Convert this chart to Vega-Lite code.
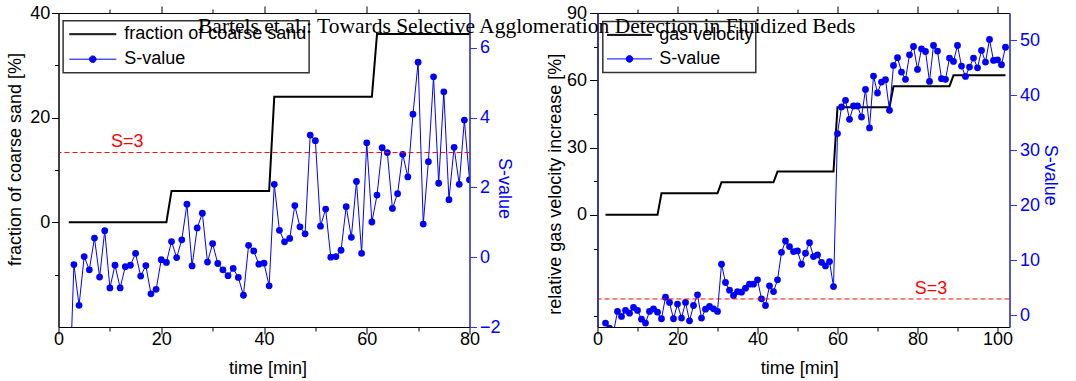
{
  "$schema": "https://vega.github.io/schema/vega-lite/v6.json",
  "background": "white",
  "padding": {"left": 5.5, "top": 3, "right": 12, "bottom": 0},
  "title": {"text": "Bartels et al.: Towards Selective Agglomeration Detection in Fluidized Beds", "font": "Liberation Serif", "fontSize": 21.5, "fontWeight": "normal", "color": "black", "anchor": "middle", "frame": "bounds", "offset": -51, "baseline": "alphabetic", "dx": -6},
  "datasets": {
    "sand": [{"t": 2, "v": 0}, {"t": 21, "v": 0}, {"t": 22, "v": 6}, {"t": 41, "v": 6}, {"t": 42, "v": 24}, {"t": 61, "v": 24}, {"t": 62, "v": 36}, {"t": 80, "v": 36}],
    "sL": [{"t": 2, "s": -4.5}, {"t": 3, "s": -0.21}, {"t": 4, "s": -1.38}, {"t": 5, "s": 0.02}, {"t": 6, "s": -0.36}, {"t": 7, "s": 0.55}, {"t": 8, "s": -0.57}, {"t": 9, "s": 0.76}, {"t": 10, "s": -0.88}, {"t": 11, "s": -0.23}, {"t": 12, "s": -0.88}, {"t": 13, "s": -0.27}, {"t": 14, "s": -0.23}, {"t": 15, "s": 0.11}, {"t": 16, "s": -0.54}, {"t": 17, "s": -0.24}, {"t": 18, "s": -1.05}, {"t": 19, "s": -0.92}, {"t": 20, "s": -0.07}, {"t": 21, "s": -0.15}, {"t": 22, "s": 0.45}, {"t": 23, "s": -0.01}, {"t": 24, "s": 0.5}, {"t": 25, "s": 1.52}, {"t": 26, "s": -0.25}, {"t": 27, "s": 0.84}, {"t": 28, "s": 1.26}, {"t": 29, "s": -0.14}, {"t": 30, "s": 0.39}, {"t": 31, "s": -0.18}, {"t": 32, "s": -0.36}, {"t": 33, "s": -0.53}, {"t": 34, "s": -0.32}, {"t": 35, "s": -0.58}, {"t": 36, "s": -1.09}, {"t": 37, "s": 0.34}, {"t": 38, "s": 0.18}, {"t": 39, "s": -0.2}, {"t": 40, "s": -0.17}, {"t": 41, "s": -0.82}, {"t": 42, "s": 2.09}, {"t": 43, "s": 0.77}, {"t": 44, "s": 0.44}, {"t": 45, "s": 0.54}, {"t": 46, "s": 1.48}, {"t": 47, "s": 0.87}, {"t": 48, "s": 0.67}, {"t": 49, "s": 3.5}, {"t": 50, "s": 3.34}, {"t": 51, "s": 0.89}, {"t": 52, "s": 1.38}, {"t": 53, "s": 0.0}, {"t": 54, "s": 0.02}, {"t": 55, "s": 0.2}, {"t": 56, "s": 1.45}, {"t": 57, "s": 0.57}, {"t": 58, "s": 2.17}, {"t": 59, "s": 0.11}, {"t": 60, "s": 3.28}, {"t": 61, "s": 1.01}, {"t": 62, "s": 1.78}, {"t": 63, "s": 3.14}, {"t": 64, "s": 3.0}, {"t": 65, "s": 1.4}, {"t": 66, "s": 1.82}, {"t": 67, "s": 2.95}, {"t": 68, "s": 2.3}, {"t": 69, "s": 4.1}, {"t": 70, "s": 5.59}, {"t": 71, "s": 0.95}, {"t": 72, "s": 2.74}, {"t": 73, "s": 5.17}, {"t": 74, "s": 2.12}, {"t": 75, "s": 4.74}, {"t": 76, "s": 1.65}, {"t": 77, "s": 3.15}, {"t": 78, "s": 2.09}, {"t": 79, "s": 3.93}, {"t": 80, "s": 2.22}],
    "gas": [{"t": 2, "v": 0}, {"t": 15, "v": 0}, {"t": 16, "v": 9.6}, {"t": 30, "v": 9.6}, {"t": 31, "v": 14.5}, {"t": 44, "v": 14.5}, {"t": 45, "v": 19.3}, {"t": 59, "v": 19.3}, {"t": 60, "v": 48}, {"t": 73, "v": 48}, {"t": 74, "v": 57.3}, {"t": 88, "v": 57.3}, {"t": 89, "v": 62.2}, {"t": 102, "v": 62.2}],
    "sR": [{"t": 2, "s": -1.39}, {"t": 3, "s": -2.3}, {"t": 4, "s": -3.1}, {"t": 5, "s": 0.73}, {"t": 6, "s": -0.18}, {"t": 7, "s": 0.91}, {"t": 8, "s": 0.42}, {"t": 9, "s": 1.45}, {"t": 10, "s": 0.91}, {"t": 11, "s": -0.67}, {"t": 12, "s": -1.39}, {"t": 13, "s": 0.73}, {"t": 14, "s": 1.21}, {"t": 15, "s": 0.6}, {"t": 16, "s": -0.6}, {"t": 17, "s": 3.33}, {"t": 18, "s": 2.36}, {"t": 19, "s": -0.6}, {"t": 20, "s": 2.06}, {"t": 21, "s": -0.48}, {"t": 22, "s": 2.36}, {"t": 23, "s": -0.97}, {"t": 24, "s": 1.81}, {"t": 25, "s": 3.75}, {"t": 26, "s": -0.48}, {"t": 27, "s": 1.15}, {"t": 28, "s": 1.63}, {"t": 29, "s": 1.21}, {"t": 30, "s": 0.73}, {"t": 31, "s": 9.31}, {"t": 32, "s": 5.99}, {"t": 33, "s": 4.59}, {"t": 34, "s": 3.63}, {"t": 35, "s": 4.35}, {"t": 36, "s": 4.23}, {"t": 37, "s": 4.96}, {"t": 38, "s": 5.68}, {"t": 39, "s": 5.68}, {"t": 40, "s": 6.47}, {"t": 41, "s": 3.02}, {"t": 42, "s": 1.81}, {"t": 43, "s": 5.38}, {"t": 44, "s": 4.35}, {"t": 45, "s": 6.47}, {"t": 46, "s": 11.49}, {"t": 47, "s": 13.54}, {"t": 48, "s": 12.52}, {"t": 49, "s": 11.61}, {"t": 50, "s": 11.73}, {"t": 51, "s": 9.31}, {"t": 52, "s": 11.31}, {"t": 53, "s": 13.24}, {"t": 54, "s": 10.7}, {"t": 55, "s": 11.0}, {"t": 56, "s": 9.67}, {"t": 57, "s": 9.01}, {"t": 58, "s": 9.79}, {"t": 59, "s": 5.26}, {"t": 60, "s": 33.07}, {"t": 61, "s": 37.91}, {"t": 62, "s": 39.12}, {"t": 63, "s": 35.67}, {"t": 64, "s": 38.09}, {"t": 65, "s": 38.09}, {"t": 66, "s": 36.09}, {"t": 67, "s": 41.11}, {"t": 68, "s": 34.1}, {"t": 69, "s": 43.53}, {"t": 70, "s": 40.45}, {"t": 71, "s": 42.44}, {"t": 72, "s": 42.87}, {"t": 73, "s": 37.3}, {"t": 74, "s": 45.47}, {"t": 75, "s": 46.86}, {"t": 76, "s": 44.26}, {"t": 77, "s": 42.93}, {"t": 78, "s": 47.4}, {"t": 79, "s": 48.91}, {"t": 80, "s": 44.74}, {"t": 81, "s": 48.49}, {"t": 82, "s": 48.0}, {"t": 83, "s": 42.56}, {"t": 84, "s": 49.09}, {"t": 85, "s": 48.07}, {"t": 86, "s": 43.05}, {"t": 87, "s": 42.93}, {"t": 88, "s": 46.8}, {"t": 89, "s": 46.19}, {"t": 90, "s": 49.09}, {"t": 91, "s": 45.34}, {"t": 92, "s": 43.47}, {"t": 93, "s": 45.16}, {"t": 94, "s": 46.8}, {"t": 95, "s": 45.04}, {"t": 96, "s": 48.19}, {"t": 97, "s": 46.07}, {"t": 98, "s": 50.18}, {"t": 99, "s": 46.37}, {"t": 100, "s": 46.49}, {"t": 101, "s": 45.59}, {"t": 102, "s": 48.79}]
  },
  "hconcat": [
    {
      "width": 411,
      "height": 314,
      "layer": [
        {
          "data": {"name": "sand"},
          "mark": {"type": "line", "strokeWidth": 2},
          "encoding": {
            "x": {"field": "t", "type": "quantitative", "scale": {"domain": [0, 80], "nice": false},
              "axis": {"orient": "bottom", "title": "time [min]", "values": [0, 10, 20, 30, 40, 50, 60, 70, 80], "labelExpr": "datum.value % 20 === 0 ? datum.label : ''", "tickSize": {"expr": "datum.value % 20 === 0 ? 7 : 4"}, "labelPadding": -3.5, "titlePadding": 11, "titleX": 209}},
            "y": {"field": "v", "type": "quantitative", "scale": {"domain": [-20, 40], "nice": false},
              "axis": {"orient": "left", "title": "fraction of coarse sand [%]", "values": [-10, 0, 10, 20, 30, 40], "labelExpr": "datum.value % 20 === 0 ? datum.label : ''", "tickSize": {"expr": "datum.value % 20 === 0 ? 7 : 4"}, "labelPadding": 1.7, "titlePadding": 5, "titleY": 146}},
            "color": {"datum": "fraction of coarse sand", "type": "nominal",
              "scale": {"domain": ["fraction of coarse sand", "S-value"], "range": ["black", "#0000ff"]},
              "legend": {"title": null, "orient": "none", "legendX": 4.6, "legendY": 7.7, "symbolSize": 2209, "symbolOffset": 3.7, "labelOffset": 7.4, "labelExpr": "datum.label + ' '"}}
          }
        },
        {
          "layer": [
            {
              "data": {"name": "sL"},
              "mark": {"type": "line", "clip": true, "strokeWidth": 1},
              "encoding": {
                "x": {"field": "t", "type": "quantitative", "axis": {"orient": "top", "labels": false, "title": null, "domain": false, "values": [10, 20, 30, 40, 50, 60, 70], "tickSize": {"expr": "datum.value % 20 === 0 ? 7 : 4"}}},
                "y": {"field": "s", "type": "quantitative", "scale": {"domain": [-2, 7], "nice": false},
                  "axis": {"orient": "right", "title": "S-value", "values": [-2, -1, 0, 1, 2, 3, 4, 5, 6, 7], "labelExpr": "datum.value % 2 === 0 ? datum.label : ''", "tickSize": {"expr": "datum.value % 2 === 0 ? 7 : 4"}, "labelPadding": 3, "titlePadding": -6, "titleY": 175, "domainColor": "#3333ff", "tickColor": "#3333ff", "labelColor": "#0000ff", "titleColor": "#0000ff"}},
                "color": {"datum": "S-value", "type": "nominal"}
              }
            },
            {
              "data": {"name": "sL"},
              "mark": {"type": "point", "filled": true, "size": 46, "opacity": 1, "clip": true},
              "encoding": {
                "x": {"field": "t", "type": "quantitative"},
                "y": {"field": "s", "type": "quantitative"},
                "color": {"datum": "S-value", "type": "nominal"}
              }
            },
            {
              "data": {"values": []},
              "mark": {"type": "point", "opacity": 1},
              "encoding": {
                "x": {"field": "t", "type": "quantitative"},
                "y": {"field": "s", "type": "quantitative"},
                "shape": {"datum": "S-value", "type": "nominal",
                  "scale": {"domain": ["fraction of coarse sand", "S-value"], "range": ["M-1,-0.021H1M-1,0.021H1", "M-1,0H1M0.14,0A0.14,0.14,0,1,1,-0.14,0A0.14,0.14,0,1,1,0.14,0Z"]},
                  "legend": {"title": null}}
              }
            },
            {
              "data": {"values": [{}]},
              "mark": {"type": "rule", "color": "#ff0000", "strokeDash": [5, 3], "strokeWidth": 1},
              "encoding": {"y": {"datum": 3}}
            },
            {
              "data": {"values": [{}]},
              "mark": {"type": "text", "color": "#ff0000", "fontSize": 18, "font": "Liberation Sans", "baseline": "bottom", "dy": -2},
              "encoding": {"x": {"datum": 13.4}, "y": {"datum": 3}, "text": {"value": "S=3"}}
            }
          ]
        }
      ],
      "resolve": {"scale": {"y": "independent"}, "axis": {"x": "independent"}}
    },
    {
      "width": 412,
      "height": 314,
      "layer": [
        {
          "data": {"name": "gas"},
          "mark": {"type": "line", "strokeWidth": 2},
          "encoding": {
            "x": {"field": "t", "type": "quantitative", "scale": {"domain": [0, 103], "nice": false},
              "axis": {"orient": "bottom", "title": "time [min]", "values": [0, 10, 20, 30, 40, 50, 60, 70, 80, 90, 100], "labelExpr": "datum.value % 20 === 0 ? datum.label : ''", "tickSize": {"expr": "datum.value % 20 === 0 ? 7 : 4"}, "labelPadding": -3.5, "titlePadding": 11, "titleX": 201.7}},
            "y": {"field": "v", "type": "quantitative", "scale": {"domain": [-50, 90], "nice": false},
              "axis": {"orient": "left", "title": "relative gas velocity increase [%]", "values": [-45, -15, 0, 15, 30, 45, 60, 75, 90], "labelExpr": "datum.value % 30 === 0 ? datum.label : ''", "tickSize": {"expr": "datum.value % 30 === 0 ? 8 : 4"}, "labelPadding": 3, "titlePadding": 2, "titleY": 170.7, "domainColor": "#2020a8", "domainWidth": 1.5}},
            "color": {"datum": "gas velocity", "type": "nominal",
              "scale": {"domain": ["gas velocity", "S-value"], "range": ["black", "#0000ff"]},
              "legend": {"title": null, "orient": "none", "legendX": 5.3, "legendY": 8.4, "symbolSize": 2025, "symbolOffset": 1.7, "labelOffset": 6.7, "rowPadding": 1}}
          }
        },
        {
          "layer": [
            {
              "data": {"name": "sR"},
              "mark": {"type": "line", "clip": true, "strokeWidth": 1},
              "encoding": {
                "x": {"field": "t", "type": "quantitative", "axis": {"orient": "top", "labels": false, "title": null, "domain": false, "values": [10, 20, 30, 40, 50, 60, 70, 80, 90, 100], "tickSize": {"expr": "datum.value % 20 === 0 ? 7 : 4"}}},
                "y": {"field": "s", "type": "quantitative", "scale": {"domain": [-2.1, 55], "nice": false},
                  "axis": {"orient": "right", "title": "S-value", "values": [0, 5, 10, 15, 20, 25, 30, 35, 40, 45, 50], "labelExpr": "datum.value % 10 === 0 ? datum.label : ''", "tickSize": {"expr": "datum.value % 10 === 0 ? 7 : 4"}, "labelPadding": 3, "titlePadding": 1, "titleY": 161.7, "domainColor": "#3333ff", "tickColor": "#3333ff", "labelColor": "#0000ff", "titleColor": "#0000ff"}},
                "color": {"datum": "S-value", "type": "nominal"}
              }
            },
            {
              "data": {"name": "sR"},
              "mark": {"type": "point", "filled": true, "size": 46, "opacity": 1, "clip": true},
              "encoding": {
                "x": {"field": "t", "type": "quantitative"},
                "y": {"field": "s", "type": "quantitative"},
                "color": {"datum": "S-value", "type": "nominal"}
              }
            },
            {
              "data": {"values": []},
              "mark": {"type": "point", "opacity": 1},
              "encoding": {
                "x": {"field": "t", "type": "quantitative"},
                "y": {"field": "s", "type": "quantitative"},
                "shape": {"datum": "S-value", "type": "nominal",
                  "scale": {"domain": ["gas velocity", "S-value"], "range": ["M-1,-0.022H1M-1,0.022H1", "M-1,0H1M0.147,0A0.147,0.147,0,1,1,-0.147,0A0.147,0.147,0,1,1,0.147,0Z"]},
                  "legend": {"title": null}}
              }
            },
            {
              "data": {"values": [{}]},
              "mark": {"type": "rule", "color": "#ff0000", "strokeDash": [5, 3], "strokeWidth": 1},
              "encoding": {"y": {"datum": 3}}
            },
            {
              "data": {"values": [{}]},
              "mark": {"type": "text", "color": "#ff0000", "fontSize": 18, "font": "Liberation Sans", "baseline": "bottom", "dy": -1},
              "encoding": {"x": {"datum": 83.4}, "y": {"datum": 3}, "text": {"value": "S=3"}}
            }
          ]
        }
      ],
      "resolve": {"scale": {"y": "independent"}, "axis": {"x": "independent"}}
    }
  ],
  "spacing": 128,
  "bounds": "flush",
  "resolve": {"scale": {"color": "independent", "shape": "independent"}, "legend": {"color": "independent", "shape": "independent"}},
  "config": {
    "font": "Liberation Sans",
    "view": {"stroke": "black", "strokeWidth": 1},
    "axis": {"labelFont": "Liberation Sans", "labelFontSize": 18, "titleFont": "Liberation Sans", "titleFontSize": 18, "titleFontWeight": "normal", "labelColor": "black", "titleColor": "black", "domainColor": "black", "tickColor": "black", "grid": false, "domainWidth": 1, "tickWidth": 1, "labelFlush": false, "labelOverlap": false, "labelBound": false},
    "legend": {"labelFont": "Liberation Sans", "labelFontSize": 18, "labelColor": "black", "labelLimit": 400, "symbolOpacity": 1, "symbolFillColor": "#0000ff", "symbolStrokeWidth": 1, "clipHeight": 23, "rowPadding": 2, "padding": 2, "strokeColor": "#333333", "strokeWidth": 1.5}
  }
}
